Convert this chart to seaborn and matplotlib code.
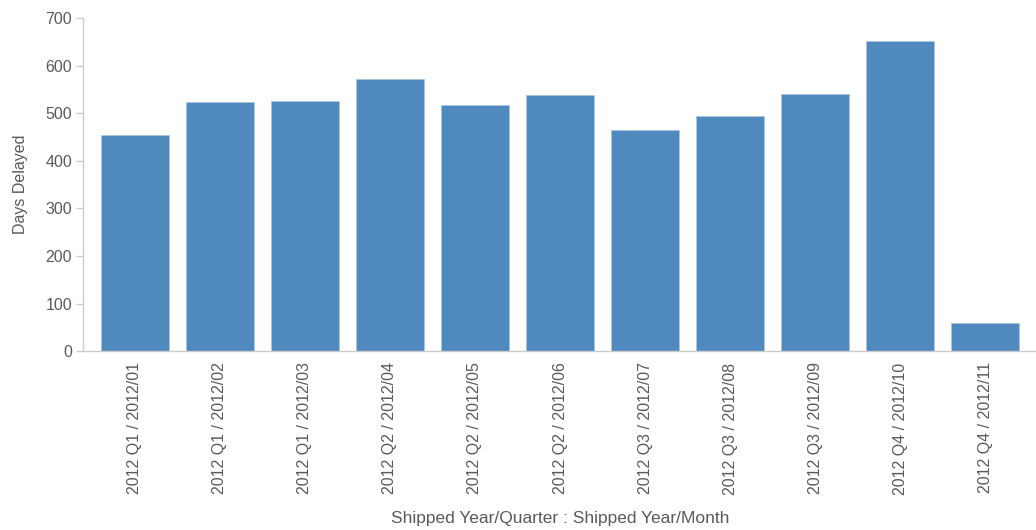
import matplotlib
matplotlib.use("Agg")
import matplotlib.pyplot as plt
import seaborn as sns
import pandas as pd

categories = ["2012 Q1 / 2012/01", "2012 Q1 / 2012/02", "2012 Q1 / 2012/03",
              "2012 Q2 / 2012/04", "2012 Q2 / 2012/05", "2012 Q2 / 2012/06",
              "2012 Q3 / 2012/07", "2012 Q3 / 2012/08", "2012 Q3 / 2012/09",
              "2012 Q4 / 2012/10", "2012 Q4 / 2012/11"]
days_delayed = [454, 523, 526, 571, 517, 538, 465, 494, 540, 652, 59]
y_ticks = [0, 100, 200, 300, 400, 500, 600, 700]

df = pd.DataFrame({"cat": categories, "val": days_delayed})

sns.set_theme(style="white")
plt.rcParams["font.family"] = ["Liberation Sans", "DejaVu Sans"]

fig = plt.figure(figsize=(10.36, 5.30), dpi=100)
ax = fig.add_axes([83 / 1036, 1 - 351.3 / 530, (1037 - 83) / 1036, (351.3 - 18) / 530])

sns.barplot(data=df, x="cat", y="val", color="#5089BD", saturation=1,
            width=0.8, edgecolor="#a9c6e3", linewidth=0.6, ax=ax)

ax.set_ylim(0, 700)
ax.set_xlim(-0.61, len(categories) - 1 + 0.61)
ax.set_yticks(y_ticks)
ax.set_yticklabels([str(v) for v in y_ticks])

tick_col = "#5a5a5a"
ax.tick_params(axis="y", length=5, width=1, color="#cccccc", pad=3,
               labelsize=11.5, labelcolor=tick_col, left=True)
ax.tick_params(axis="x", length=0, pad=8, labelsize=11.5, labelcolor=tick_col,
               rotation=90)

for s in ["top", "right"]:
    ax.spines[s].set_visible(False)
for s in ["left", "bottom"]:
    ax.spines[s].set_color("#cccccc")
    ax.spines[s].set_linewidth(1)

ax.set_ylabel("Days Delayed", fontsize=11.5, color=tick_col)
ax.set_xlabel("Shipped Year/Quarter : Shipped Year/Month", fontsize=12.5,
              color=tick_col)
ax.yaxis.set_label_coords(-0.058, 0.5)
ax.xaxis.set_label_coords(0.5, -0.48)
ax.xaxis.label.set_va("top")

fig.savefig("out.png", dpi=100)
